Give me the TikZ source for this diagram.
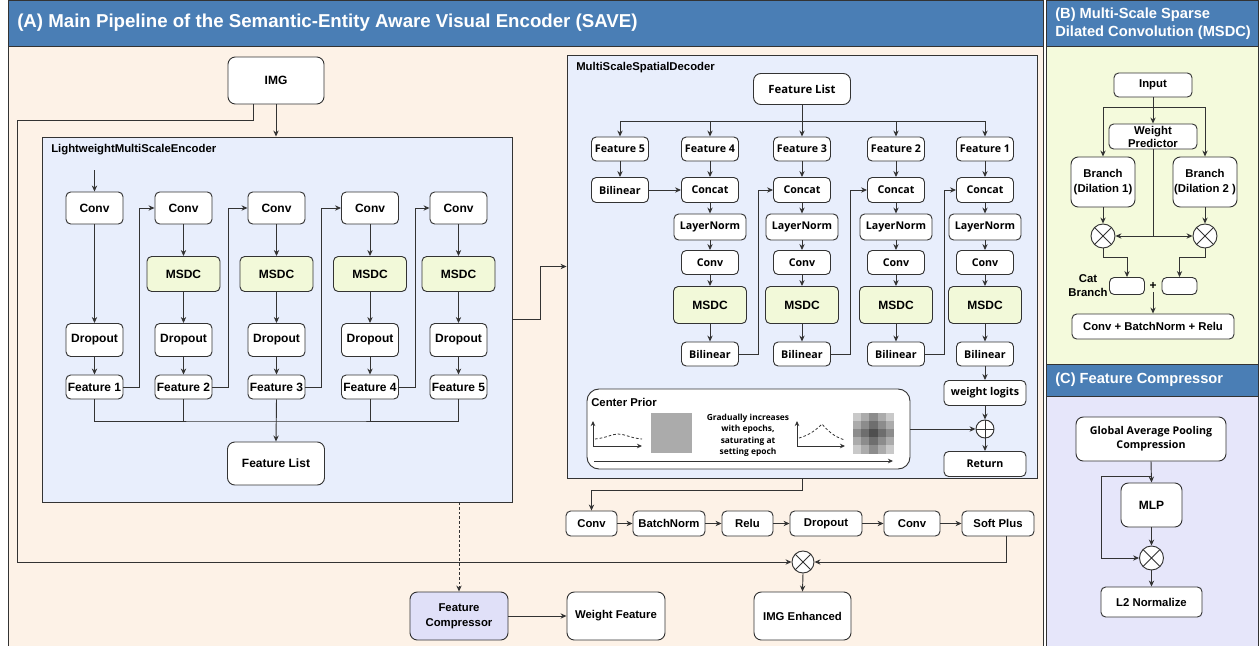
\documentclass[tikz,border=0pt]{standalone}
\usepackage{fontspec}
\setmainfont{Liberation Sans}
\newfontfamily\osans{Open Sans}
\usetikzlibrary{arrows.meta,calc}
\definecolor{hdr}{HTML}{4A7EB5}
\definecolor{peach}{HTML}{FDF2E7}
\definecolor{ybg}{HTML}{F4FADC}
\definecolor{lav}{HTML}{E6E6FA}
\definecolor{bluebox}{HTML}{E8EEFC}
\definecolor{msdcc}{HTML}{F2F9D9}
\definecolor{fcomp}{HTML}{E0E0F8}
\definecolor{lc}{HTML}{333333}
\tikzset{
  px/.style 2 args={minimum width=#1*0.75pt, minimum height=#2*0.75pt},
  box/.style={draw=lc, line width=0.7pt, fill=white, rounded corners=3.5pt, inner sep=0pt, align=center, font=\bfseries\fontsize{9}{10.5}\selectfont},
  obox/.style={box, font=\osans\bfseries\fontsize{8}{9.5}\selectfont},
  bigbox/.style={box, rounded corners=5.5pt},
  mbox/.style={box, fill=msdcc},
  arr/.style={draw=lc, line width=0.7pt, -{Stealth[length=4.5pt,width=4pt]}},
  ax/.style={draw=lc, line width=0.7pt, -{Stealth[length=3.8pt,width=3.4pt]}},
  wire/.style={draw=lc, line width=0.7pt},
  otimes/.style={circle, draw=lc, fill=white, line width=0.7pt, minimum size=#1*1.5pt, inner sep=0pt,
    path picture={\draw[wire] (path picture bounding box.north west)--(path picture bounding box.south east) (path picture bounding box.north east)--(path picture bounding box.south west);}},
  oplus/.style={circle, draw=lc, fill=white, line width=0.7pt, minimum size=#1*1.5pt, inner sep=0pt,
    path picture={\draw[wire] (path picture bounding box.north)--(path picture bounding box.south) (path picture bounding box.east)--(path picture bounding box.west);}},
  ttl/.style={anchor=west, inner sep=0pt, font=\bfseries\fontsize{8.5}{10}\selectfont},
  hdrtext/.style={anchor=west, inner sep=0pt, text=white, align=left},
  container/.style={draw=lc, fill=bluebox, line width=0.7pt, inner sep=0pt},
}
\begin{document}
\begin{tikzpicture}[x=0.75pt,y=-0.75pt]
\useasboundingbox (0,0) rectangle (1260,646);
\fill[white] (0,0) rectangle (1260,646);
% ---------------- panels
\draw[fill=peach, draw=lc, line width=0.7pt] (8,46) rectangle (1043,646);
\draw[fill=hdr, draw=lc, line width=0.7pt] (8,0) rectangle (1043,46);
\node[hdrtext, font=\bfseries\fontsize{14}{16}\selectfont] (ha) at (17,23) {(A) Main Pipeline of the Semantic-Entity Aware Visual Encoder (SAVE)};
\draw[fill=ybg, draw=lc, line width=0.7pt] (1046,46) rectangle (1258,364);
\draw[fill=hdr, draw=lc, line width=0.7pt] (1046,0) rectangle (1258,46);
\node[hdrtext, font=\bfseries\fontsize{11}{13.5}\selectfont] (hb) at (1055,23.5) {(B) Multi-Scale Sparse\\Dilated Convolution (MSDC)};
\draw[fill=lav, draw=lc, line width=0.7pt] (1046,396) rectangle (1258,646);
\draw[fill=hdr, draw=lc, line width=0.7pt] (1046,364) rectangle (1258,396);
\node[hdrtext, font=\bfseries\fontsize{11}{13}\selectfont] (hc) at (1055,380) {(C) Feature Compressor};

% ---------------- IMG and encoder
\node[bigbox, px={96}{47}] (img) at (276,80.5) {IMG};
\node[container, px={470}{365}] (enc) at (277,319.5) {};
\node[ttl] (enct) at (51,150) {LightweightMultiScaleEncoder};
\foreach \i/\x in {1/94.5,2/183.5,3/276.5,4/370,5/458.5}{
  \node[box, px={57}{32}] (ec\i) at (\x,208) {Conv};
  \node[box, px={57}{33}] (ed\i) at (\x,340) {Dropout};
  \node[box, px={57}{24}] (ef\i) at (\x,387) {Feature \i};
}
\foreach \i/\x in {2/183.5,3/276.5,4/370,5/458.5}{
  \node[mbox, px={73}{35}] (em\i) at (\x,274) {MSDC};
}
\node[bigbox, px={97}{43}] (efl) at (276,463.5) {Feature List};
\coordinate (ein) at (94.5,170);
\coordinate (eb) at (276,421);

% ---------------- decoder
\node[container, px={470}{423}] (dec) at (802,266.5) {};
\node[ttl] (dect) at (576,68) {MultiScaleSpatialDecoder};
\node[obox, bigbox, px={97}{31}, font=\osans\bfseries\fontsize{8.5}{10}\selectfont] (dfl) at (802,89) {Feature List};
\foreach \i/\x in {5/620,4/710,3/802,2/896,1/985}{
  \node[obox, px={57}{24}] (df\i) at (\x,149) {Feature \i};
}
\node[obox, px={57}{25}] (dbl5) at (620,190) {Bilinear};
\foreach \i/\x in {4/710,3/802,2/896,1/985}{
  \node[obox, px={57}{25}] (dcc\i) at (\x,190) {Concat};
  \node[obox, px={72}{26}] (dln\i) at (\x,227) {LayerNorm};
  \node[obox, px={57}{24}] (dcv\i) at (\x,262.5) {Conv};
  \node[mbox, px={73}{37}] (dms\i) at (\x,305) {MSDC};
  \node[obox, px={57}{24}] (dbl\i) at (\x,354) {Bilinear};
}
\node[obox, px={82}{25}] (wl) at (985,393) {weight logits};
\node[oplus=9] (pl) at (985,429) {};
\node[obox, px={82}{25}] (ret) at (985,464) {Return};
\node[draw=lc, fill=white, line width=0.7pt, rounded corners=9pt, px={323}{80}, inner sep=0pt] (cp) at (748.5,429) {};
\coordinate (db) at (802,121);

% center prior contents
\node[ttl] (cpt) at (591,402) {Center Prior};
\draw[ax] (593,446) -- (593,421);
\draw[ax] (593,446) -- (642,446);
\draw[lc, line width=0.6pt, dash pattern=on 2pt off 1.5pt] (595,439) .. controls (606,438) and (612,434) .. (618,434) .. controls (625,434) and (630,438) .. (642,439);
\fill[black!33] (651,413) rectangle (692,453);
\node[align=center, inner sep=0pt, font=\osans\bfseries\fontsize{6.3}{8.6}\selectfont] (cptx) at (748,435.5) {Gradually increases\\with epochs,\\saturating at\\setting epoch};
\draw[ax] (797,446) -- (797,421);
\draw[ax] (797,446) -- (845,446);
\draw[lc, line width=0.6pt, dash pattern=on 2pt off 1.5pt] (799,438) .. controls (810,435) and (817,429) .. (822,424) .. controls (827,430) and (834,437) .. (845,440);
\foreach \i in {0,...,4}{
  \foreach \j in {0,...,4}{
    \pgfmathsetmacro\g{69-12*(abs(\i-2)+abs(\j-2))}
    \fill[black!\g] ({853+\i*8.2},{412.5+\j*8.2}) rectangle ({853+(\i+1)*8.2},{412.5+(\j+1)*8.2});
  }
}
\draw[ax] (594,461) -- (893,461);

% ---------------- bottom row
\node[box, px={51}{25}, font=\bfseries\fontsize{8.5}{10}\selectfont] (b1) at (591.5,523.5) {Conv};
\node[box, px={72}{25}, font=\bfseries\fontsize{8.5}{10}\selectfont] (b2) at (669,523.5) {BatchNorm};
\node[box, px={51}{25}, font=\bfseries\fontsize{8.5}{10}\selectfont] (b3) at (747.5,523.5) {Relu};
\node[box, px={72}{25}, font=\bfseries\fontsize{8.5}{10}\selectfont] (b4) at (826,523.5) {Dropout};
\node[box, px={56}{25}, font=\bfseries\fontsize{8.5}{10}\selectfont] (b5) at (912,523.5) {Conv};
\node[box, px={72}{25}, font=\bfseries\fontsize{8.5}{10}\selectfont] (b6) at (998,523.5) {Soft Plus};
\node[otimes=11] (mx) at (803,562) {};
\node[bigbox, px={98}{48}, fill=fcomp, font=\bfseries\fontsize{8.5}{11}\selectfont] (fc) at (459,616) {Feature\\Compressor};
\node[bigbox, px={98}{48}, font=\bfseries\fontsize{8.5}{10}\selectfont] (wf) at (616,616) {Weight Feature};
\node[bigbox, px={97}{48}, font=\bfseries\fontsize{8.5}{10}\selectfont] (ie) at (802.5,616) {IMG Enhanced};
\coordinate (cl) at (17,120);

% ---------------- panel B
\node[box, px={78}{24}, font=\bfseries\fontsize{8.5}{10}\selectfont] (in) at (1153,85) {Input};
\node[box, px={88}{25}, font=\bfseries\fontsize{8.5}{9.8}\selectfont] (wp) at (1153,136.5) {Weight\\Predictor};
\node[bigbox, px={64}{50}, font=\bfseries\fontsize{8.5}{11}\selectfont] (br1) at (1103,182) {Branch\\(Dilation 1)};
\node[bigbox, px={64}{50}, font=\bfseries\fontsize{8.5}{11}\selectfont] (br2) at (1205,182) {Branch\\(Dilation 2 )};
\node[otimes=12] (mx1) at (1103,236) {};
\node[otimes=12] (mx2) at (1205,236) {};
\node[box, px={35}{17}] (cb1) at (1127,286) {};
\node[box, px={35}{17}] (cb2) at (1179.5,286) {};
\node[inner sep=0pt, px={8}{12}, font=\bfseries\fontsize{9}{10}\selectfont] (pls) at (1153,286) {+};
\node[align=center, inner sep=0pt, font=\bfseries\fontsize{8.5}{10.5}\selectfont] (catl) at (1088,286) {Cat\\Branch};
\node[box, px={162}{25}, font=\bfseries\fontsize{8.5}{10}\selectfont] (cbr) at (1153,326.5) {Conv + BatchNorm + Relu};
\coordinate (bb) at (1153,107);
\coordinate (wj) at (1153,236);

% ---------------- panel C
\node[bigbox, px={150}{44}, font=\osans\bfseries\fontsize{8}{10.5}\selectfont] (gap) at (1151,439) {Global Average Pooling\\Compression};
\node[bigbox, px={61}{44}, font=\bfseries\fontsize{9}{10}\selectfont] (mlp) at (1151.5,505) {MLP};
\node[otimes=12] (mx3) at (1151.5,558) {};
\node[box, px={101}{30}, font=\bfseries\fontsize{8.5}{10}\selectfont] (l2) at (1151.5,602) {L2 Normalize};
\coordinate (sk) at (1151.5,476);

% ================= connectors
% encoder
\draw[arr] (img.south) -- (img.south |- enc.north);
\draw[arr] ([xshift=-17.25pt]img.south) |- (cl) |- (mx.west);
\draw[arr] (ein) -- (ec1.north);
\draw[arr] (ec1.south) -- (ed1.north);
\foreach \i in {2,...,5}{
  \draw[arr] (ec\i.south) -- (em\i.north);
  \draw[arr] (em\i.south) -- (ed\i.north);
}
\foreach \i in {1,...,5} \draw[arr] (ed\i.south) -- (ef\i.north);
\foreach \i/\j in {1/2,2/3,3/4,4/5} \draw[arr] (ef\i.east) -- ++(16,0) |- (ec\j.west);
\draw[wire] (ef1.south) |- (eb) -| (ef5.south);
\foreach \i in {2,4} \draw[wire] (ef\i.south) -- (ef\i.south |- eb);
\draw[arr] (ef3.south) -- (efl.north);
\draw[arr] (enc.east) -- ++(28,0) |- (dec.west);
\draw[arr, dash pattern=on 2pt off 1.5pt] (fc.north |- enc.south) -- (fc.north);

% decoder
\draw[wire] (dfl.south) -- (db);
\draw[wire] (df5.north |- db) -- (df1.north |- db);
\foreach \i in {1,...,5} \draw[arr] (df\i.north |- db) -- (df\i.north);
\draw[arr] (df5.south) -- (dbl5.north);
\draw[arr] (dbl5.east) -- (dcc4.west);
\foreach \i in {1,...,4}{
  \draw[arr] (df\i.south) -- (dcc\i.north);
  \draw[arr] (dcc\i.south) -- (dln\i.north);
  \draw[arr] (dln\i.south) -- (dcv\i.north);
  \draw[arr] (dcv\i.south) -- (dms\i.north);
  \draw[arr] (dms\i.south) -- (dbl\i.north);
}
\foreach \i/\j in {4/3,3/2,2/1} \draw[arr] (dbl\i.east) -- ++(19,0) |- (dcc\j.west);
\draw[arr] (dbl1.south) -- (wl.north);
\draw[arr] (wl.south) -- (pl.north);
\draw[arr] (pl.south) -- (ret.north);
\draw[arr] (cp.east) -- (pl.west);

% bottom
\draw[arr] (dec.south) -- ++(0,12) -| (b1.north);
\draw[arr] (b1.east) -- (b2.west);
\draw[arr] (b2.east) -- (b3.west);
\draw[arr] (b3.east) -- (b4.west);
\draw[arr] (b4.east) -- (b5.west);
\draw[arr] (b5.east) -- (b6.west);
\draw[arr] ([xshift=6.5pt]b6.south) |- (mx.east);
\draw[arr] (mx.south) -- (ie.north);
\draw[arr] (fc.east) -- (wf.west);

% panel B
\draw[arr] (in.south) -- (wp.north);
\draw[arr] (bb) -| (br1.north);
\draw[arr] (bb) -| (br2.north);
\draw[arr] (br1.south) -- (mx1.north);
\draw[arr] (br2.south) -- (mx2.north);
\draw[wire] (wp.south) -- (wj);
\draw[arr] (wj) -- (mx1.east);
\draw[arr] (wj) -- (mx2.west);
\draw[arr] (mx1.south) -- ++(0,9) -| (cb1.north);
\draw[arr] (mx2.south) -- ++(0,9) -| (cb2.north);
\draw[arr] (pls.south) -- (cbr.north);

% panel C
\draw[arr] (gap.south) -- (mlp.north);
\draw[arr] (mlp.south) -- (mx3.north);
\draw[arr] (mx3.south) -- (l2.north);
\draw[arr] (sk) -- ++(-50,0) |- (mx3.west);
\end{tikzpicture}
\end{document}
